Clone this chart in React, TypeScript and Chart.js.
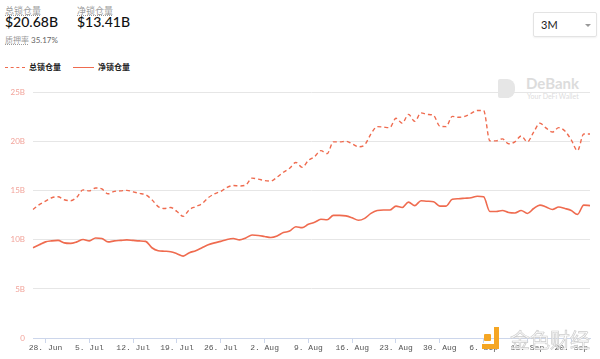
import React, { useEffect, useRef } from "react";
import { Chart, registerables } from "chart.js";

Chart.register(...registerables);

const MONTHS = ["Jan", "Feb", "Mar", "Apr", "May", "Jun", "Jul", "Aug", "Sep", "Oct", "Nov", "Dec"];
const START_YEAR = 2021;
const START_MONTH = 5; // June
const START_DAY = 26;
const DAY_COUNT = 90;

const categories: string[] = Array.from({ length: DAY_COUNT }, (_, i) => {
  const d = new Date(START_YEAR, START_MONTH, START_DAY + i);
  return `${d.getDate()}. ${MONTHS[d.getMonth()]}`;
});

const tickLabels = ["28. Jun", "5. Jul", "12. Jul", "19. Jul", "26. Jul", "2. Aug", "9. Aug", "16. Aug", "23. Aug", "30. Aug", "6. Sep", "13. Sep", "20. Sep"];

// 总锁仓量 (billions)
const totalLocked = [
  13.1, 13.6, 13.95, 14.3, 14.4, 14.1, 14.0, 14.35, 15.1, 15.0,
  15.3, 15.2, 14.7, 14.95, 15.0, 15.05, 14.9, 14.75, 14.6, 14.1,
  13.4, 13.2, 13.3, 12.9, 12.4, 13.1, 13.4, 13.7, 14.3, 14.7,
  14.95, 15.35, 15.55, 15.5, 15.6, 16.3, 16.2, 16.05, 16.0, 16.4,
  16.9, 17.3, 17.9, 17.4, 18.1, 18.5, 19.1, 18.8, 20.0, 20.0,
  20.05, 19.8, 19.5, 19.7, 20.8, 21.55, 21.5, 21.45, 22.4, 21.9,
  22.8, 22.1, 22.95, 22.8, 22.7, 21.6, 21.55, 22.6, 22.5, 22.6,
  22.9, 23.2, 23.2, 20.1, 20.1, 20.3, 19.8, 20.0, 20.6, 20.0,
  21.0, 21.9, 21.4, 21.0, 21.45, 21.1, 20.2, 19.1, 20.8, 20.8,
];

// 净锁仓量 (billions)
const netLocked = [
  9.2, 9.5, 9.8, 9.9, 9.95, 9.7, 9.65, 9.8, 10.05, 9.9,
  10.2, 10.15, 9.8, 9.9, 9.95, 10.0, 9.95, 9.9, 9.85, 9.2,
  8.9, 8.85, 8.8, 8.6, 8.35, 8.7, 8.9, 9.2, 9.5, 9.7,
  9.85, 10.05, 10.15, 10.0, 10.2, 10.5, 10.45, 10.35, 10.25, 10.4,
  10.75, 10.9, 11.35, 11.25, 11.6, 11.8, 12.1, 12.05, 12.5, 12.5,
  12.45, 12.25, 12.0, 12.2, 12.7, 13.0, 13.05, 13.05, 13.45, 13.3,
  13.85, 13.5, 14.0, 13.95, 13.9, 13.45, 13.45, 14.15, 14.2, 14.25,
  14.3, 14.45, 14.4, 12.9, 12.9, 13.0, 12.8, 12.75, 13.0, 12.7,
  13.2, 13.55, 13.35, 13.1, 13.35, 13.2, 13.0, 12.6, 13.55, 13.5,
];

const Y_MAX = 25;
const Y_STEP = 5;

const LINE_COLOR = "#ef6b4f";

export default function App() {
  const canvasRef = useRef<HTMLCanvasElement | null>(null);

  useEffect(() => {
    if (!canvasRef.current) return;
    const chart = new Chart(canvasRef.current, {
      type: "line",
      data: {
        labels: categories,
        datasets: [
          {
            label: "总锁仓量",
            data: totalLocked,
            borderColor: LINE_COLOR,
            borderWidth: 1.4,
            borderDash: [4, 3],
            pointRadius: 0,
            tension: 0.4,
            cubicInterpolationMode: "monotone",
            fill: false,
          },
          {
            label: "净锁仓量",
            data: netLocked,
            borderColor: LINE_COLOR,
            borderWidth: 1.6,
            pointRadius: 0,
            tension: 0.4,
            cubicInterpolationMode: "monotone",
            fill: false,
          },
        ],
      },
      options: {
        animation: false,
        responsive: false,
        maintainAspectRatio: false,
        layout: { padding: { top: 11, right: 10, bottom: 0, left: 0 } },
        plugins: { legend: { display: false }, tooltip: { enabled: false } },
        scales: {
          x: {
            type: "category",
            offset: false,
            grid: { drawOnChartArea: false, drawTicks: true, tickLength: 5, color: "#ccd6eb" },
            border: { color: "#ccd6eb" },
            ticks: {
              autoSkip: false,
              maxRotation: 0,
              padding: 0,
              color: "#555",
              font: { family: "Liberation Mono", size: 8 },
              callback: (_v: any, i: number) => (tickLabels.includes(categories[i]) ? categories[i] : null),
            },
            afterFit: (s: any) => {
              s.height = 21;
            },
          },
          y: {
            min: 0,
            max: Y_MAX,
            grid: { color: "#e6e6e6", drawTicks: false },
            border: { display: false },
            ticks: {
              stepSize: Y_STEP,
              padding: 8,
              color: "#f2a39a",
              font: { family: "Lato", size: 8 },
              callback: (v: any) => (v === 0 ? "0" : `${v}B`),
            },
            afterFit: (s: any) => {
              s.width = 33;
            },
          },
        },
      },
    });
    return () => chart.destroy();
  }, []);

  const grey = "#9a9a9a";
  return (
    <div style={{ position: "absolute", left: 0, top: 0, width: 600, height: 359, background: "#fff", fontFamily: "Lato, 'Noto Sans CJK SC', sans-serif", overflow: "hidden" }}>
      {/* header */}
      <div style={{ position: "absolute", left: 5, top: 4, fontSize: 9, color: grey, fontFamily: "'Noto Sans CJK SC'", textDecoration: "underline dotted" }}>总锁仓量</div>
      <div style={{ position: "absolute", left: 5, top: 13, fontSize: 14, color: "#111", fontWeight: 500 }}>$20.68B</div>
      <div style={{ position: "absolute", left: 77, top: 4, fontSize: 9, color: grey, fontFamily: "'Noto Sans CJK SC'", textDecoration: "underline dotted" }}>净锁仓量</div>
      <div style={{ position: "absolute", left: 77, top: 13, fontSize: 14, color: "#111", fontWeight: 500 }}>$13.41B</div>
      <div style={{ position: "absolute", left: 5, top: 34, fontSize: 8, color: "#666" }}>
        <span style={{ fontFamily: "'Noto Sans CJK SC'", color: grey, textDecoration: "underline dotted" }}>质押率</span> 35.17%
      </div>
      {/* dropdown */}
      <div style={{ position: "absolute", left: 533, top: 12, width: 64, height: 25, boxSizing: "border-box", border: "1px solid #e3e3e3", borderRadius: 2, boxShadow: "0 1px 2px rgba(0,0,0,0.06)" }}>
        <div style={{ position: "absolute", left: 7, top: 5, fontSize: 11, color: "#222" }}>3M</div>
        <div style={{ position: "absolute", left: 51, top: 11, width: 0, height: 0, borderLeft: "3px solid transparent", borderRight: "3px solid transparent", borderTop: "3px solid #999" }} />
      </div>
      {/* legend */}
      <div style={{ position: "absolute", left: 5, top: 67, width: 20, height: 0, borderTop: `1.5px dashed ${LINE_COLOR}` }} />
      <div style={{ position: "absolute", left: 29, top: 61, fontSize: 8, fontWeight: 700, color: "#222", fontFamily: "'Noto Sans CJK SC'" }}>总锁仓量</div>
      <div style={{ position: "absolute", left: 73, top: 67, width: 21, height: 0, borderTop: `1.5px solid ${LINE_COLOR}` }} />
      <div style={{ position: "absolute", left: 98, top: 61, fontSize: 8, fontWeight: 700, color: "#222", fontFamily: "'Noto Sans CJK SC'" }}>净锁仓量</div>
      {/* DeBank watermark */}
      <div style={{ position: "absolute", left: 498, top: 79, width: 17, height: 19, background: "#e6e6e6", borderRadius: "2px 8px 8px 2px" }} />
      <div style={{ position: "absolute", left: 526, top: 74, fontSize: 15, fontWeight: 700, color: "#dcdcdc" }}>DeBank</div>
      <div style={{ position: "absolute", left: 527, top: 92, fontSize: 7, color: "#dcdcdc" }}>Your DeFi Wallet</div>
      {/* chart */}
      <canvas ref={canvasRef} width={600} height={279} style={{ position: "absolute", left: 0, top: 80, width: 600, height: 279 }} />
      {/* 金色财经 watermark */}
      <div style={{ position: "absolute", left: 484, top: 334, width: 7, height: 7, background: "#f5a623", borderRadius: 1 }} />
      <div style={{ position: "absolute", left: 494, top: 327, width: 5, height: 22, background: "#f5a623" }} />
      <div style={{ position: "absolute", left: 482, top: 344, width: 17, height: 5, background: "#f5a623" }} />
      <div style={{ position: "absolute", left: 510, top: 325, fontSize: 20, color: "rgba(255,255,255,0.85)", fontFamily: "'Noto Sans CJK SC'", WebkitTextStroke: "0.7px #cccccc" }}>金色财经</div>
    </div>
  );
}
